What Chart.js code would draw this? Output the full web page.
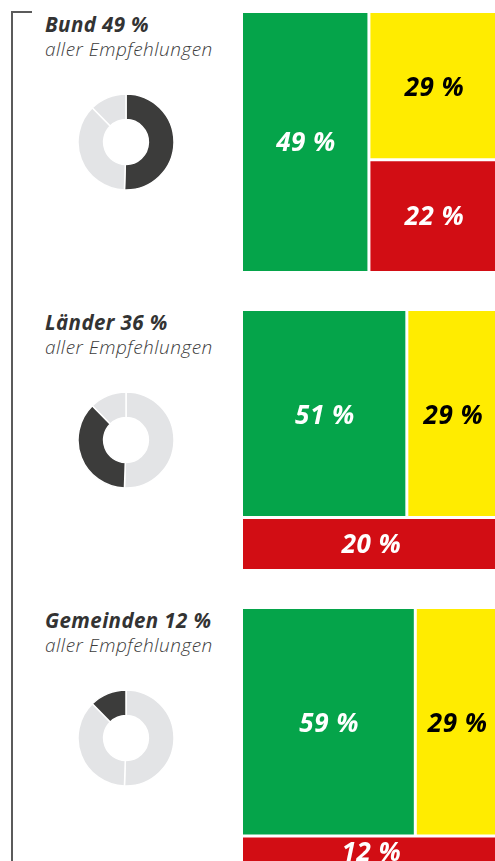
<!DOCTYPE html>
<html lang="de">
<head>
<meta charset="utf-8">
<script src="https://cdn.jsdelivr.net/npm/chart.js@4.4.1/dist/chart.umd.min.js"></script>
<style>
  html, body { margin: 0; padding: 0; width: 495px; height: 861px; overflow: hidden; background: #fff; }
  body { position: relative; font-family: 'Open Sans', sans-serif; }
  .klammer { position: absolute; left: 11px; top: 11px; width: 19px; height: 900px;
             border-left: 2px solid #5b5b5b; border-top: 2px solid #5b5b5b; }
  .panel { position: absolute; left: 0; width: 500px; height: 298px; }
  .titel { position: absolute; left: 45px; top: 14px; font-size: 20.5px; line-height: 20.5px; letter-spacing: 0.4px;
           font-weight: 700; font-style: italic; color: #333; white-space: nowrap; }
  .untertitel { position: absolute; left: 45px; top: 40px; font-size: 19px; line-height: 19px; letter-spacing: 0.5px;
                font-weight: 300; font-style: italic; color: #3c3c3c; white-space: nowrap; }
  .donut { position: absolute; left: 76px; top: 92px; }
  .karte { position: absolute; left: 243px; top: 13px; }
</style>
</head>
<body>
<div class="klammer"></div>
<div id="panels"></div>

<script>
// Ebenen und ihr Anteil an allen Empfehlungen
const ebenen = ['Bund', 'Länder', 'Gemeinden'];
const anteilAllerEmpfehlungen = [49, 36, 12];

// Umsetzungsstand je Ebene (in %)
const umgesetzt = [49, 51, 59];
const teilweiseUmgesetzt = [29, 29, 29];
const nichtUmgesetzt = [22, 20, 12];

const farben = { gruen: '#05a44a', gelb: '#ffec00', rot: '#d20d14', dunkel: '#3c3c3b', hell: '#e3e4e6' };

// Bund: grün als Spalte links, sonst rot als Zeile unten
const aufteilung = ['spalten', 'zeilen', 'zeilen'];

/**
 * Kacheln im Wertebereich 0..100 (x) und 0..100 (y) berechnen
 */
function kacheln(g, y, r, art) {
  const summe = g + y + r;
  let rects, trenner;
  if (art === 'spalten') {
    const xg = g / summe * 100;
    const yr = r / (y + r) * 100;
    rects = [
      { wert: g, farbe: farben.gruen, text: '#fff', x0: 0, x1: xg, y0: 0, y1: 100 },
      { wert: y, farbe: farben.gelb, text: '#000', x0: xg, x1: 100, y0: yr, y1: 100 },
      { wert: r, farbe: farben.rot, text: '#fff', x0: xg, x1: 100, y0: 0, y1: yr }
    ];
    trenner = [
      [{ x: xg, y: 0 }, { x: xg, y: 100 }],
      [{ x: xg, y: yr }, { x: 100, y: yr }]
    ];
  } else {
    const yr = r / summe * 100;
    const xg = g / (g + y) * 100;
    rects = [
      { wert: g, farbe: farben.gruen, text: '#fff', x0: 0, x1: xg, y0: yr, y1: 100 },
      { wert: y, farbe: farben.gelb, text: '#000', x0: xg, x1: 100, y0: yr, y1: 100 },
      { wert: r, farbe: farben.rot, text: '#fff', x0: 0, x1: 100, y0: 0, y1: yr }
    ];
    trenner = [
      [{ x: 0, y: yr }, { x: 100, y: yr }],
      [{ x: xg, y: yr }, { x: xg, y: 100 }]
    ];
  }
  return { rects, trenner };
}

// Beschriftung in der Mitte jeder Kachel
const kachelText = {
  id: 'kachelText',
  afterDatasetsDraw(chart) {
    const { ctx, scales } = chart;
    ctx.save();
    ctx.font = 'italic 700 26px "Open Sans"';
    ctx.letterSpacing = '0.5px';
    ctx.textAlign = 'center';
    ctx.textBaseline = 'middle';
    chart.data.datasets.forEach(ds => {
      if (!ds.kachel) return;
      const k = ds.kachel;
      const cx = scales.x.getPixelForValue((k.x0 + k.x1) / 2);
      const cy = scales.y.getPixelForValue((k.y0 + k.y1) / 2);
      ctx.fillStyle = k.text;
      ctx.fillText(k.wert + ' %', cx, cy + 2);
    });
    ctx.restore();
  }
};

function init() {
  const container = document.getElementById('panels');

  ebenen.forEach((ebene, i) => {
    const panel = document.createElement('div');
    panel.className = 'panel';
    panel.style.top = (i * 298) + 'px';
    panel.innerHTML =
      '<div class="titel">' + ebene + ' ' + anteilAllerEmpfehlungen[i] + ' %</div>' +
      '<div class="untertitel">aller Empfehlungen</div>' +
      '<canvas class="donut" width="100" height="100"></canvas>' +
      '<canvas class="karte" width="257" height="258"></canvas>';
    container.appendChild(panel);

    // Donut: Anteil der Ebene an allen Empfehlungen
    new Chart(panel.querySelector('.donut'), {
      type: 'doughnut',
      data: {
        labels: ebenen,
        datasets: [{
          data: anteilAllerEmpfehlungen,
          backgroundColor: ebenen.map((_, j) => j === i ? farben.dunkel : farben.hell),
          borderColor: '#fff',
          borderWidth: 1.5
        }]
      },
      options: {
        responsive: false,
        animation: false,
        radius: 48,
        cutout: 23,
        plugins: { legend: { display: false }, tooltip: { enabled: false } }
      }
    });

    // Kacheln: Umsetzungsstand
    const layout = kacheln(umgesetzt[i], teilweiseUmgesetzt[i], nichtUmgesetzt[i], aufteilung[i]);
    const datasets = [];
    layout.trenner.forEach(pts => {
      datasets.push({
        data: pts,
        borderColor: '#fff',
        borderWidth: 3,
        fill: false,
        pointRadius: 0,
        order: -1
      });
    });
    layout.rects.forEach(k => {
      datasets.push({
        data: [{ x: k.x0, y: k.y1 }, { x: k.x1, y: k.y1 }],
        fill: { value: k.y0 },
        backgroundColor: k.farbe,
        borderWidth: 0,
        pointRadius: 0,
        kachel: k
      });
    });

    new Chart(panel.querySelector('.karte'), {
      type: 'line',
      data: { datasets },
      options: {
        responsive: false,
        animation: false,
        layout: { padding: 0 },
        scales: {
          x: { type: 'linear', min: 0, max: 100, display: false },
          y: { type: 'linear', min: 0, max: 100, display: false }
        },
        plugins: { legend: { display: false }, tooltip: { enabled: false } }
      },
      plugins: [kachelText]
    });
  });
}

Promise.all([
  document.fonts.load('italic 700 26px "Open Sans"'),
  document.fonts.load('italic 300 19px "Open Sans"')
]).then(init, init);
</script>
</body>
</html>
